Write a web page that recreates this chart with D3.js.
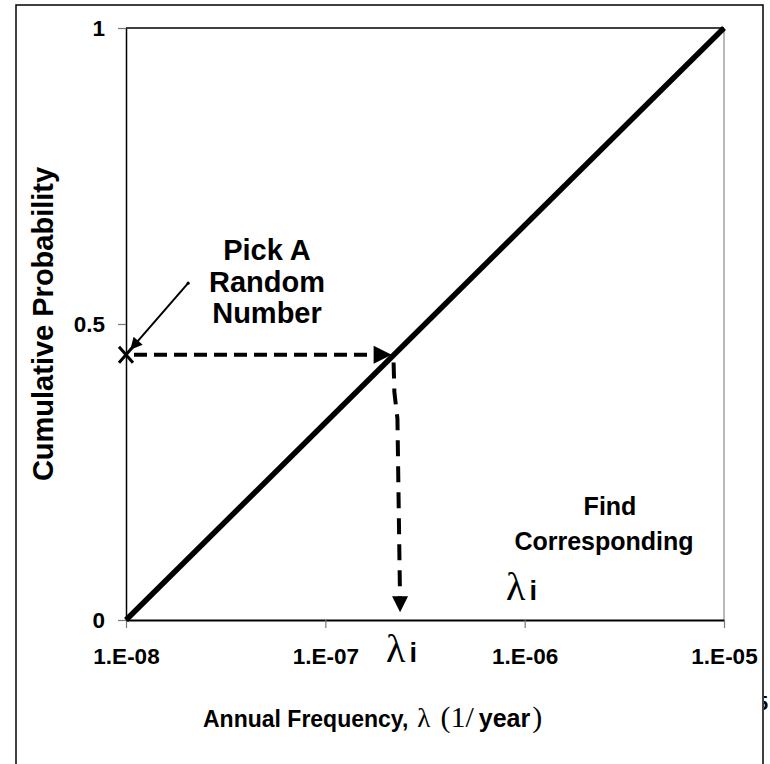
<!DOCTYPE html>
<html><head><meta charset="utf-8">
<script src="https://cdn.jsdelivr.net/npm/d3@7"></script>
<style>body{margin:0;background:#fff}svg{display:block}</style></head>
<body><svg id="c" width="770" height="764"></svg>
<script>
// ---- data ----
const xTicks = [1e-8, 1e-7, 1e-6, 1e-5];
const xTickLabels = ["1.E-08", "1.E-07", "1.E-06", "1.E-05"];
const yTicks = [0, 0.5, 1];
const yTickLabels = ["0", "0.5", "1"];
const cdfX = [1e-8, 1e-5];
const cdfY = [0, 1];
const pickedP = 0.448;
const hArrowX = [1e-8, 2.15e-7];
const vArrowX = [2.2e-7, 2.22e-7, 2.3e-7, 2.37e-7];
const vArrowY = [0.435, 0.385, 0.34, 0.013];
const noteArrowX = [2.05e-8, 1.06e-8];
const noteArrowY = [0.569, 0.458];

const svg = d3.select("#c");
const L = 126, R = 724, T = 28, B = 620;
const x = d3.scaleLog().domain([1e-8, 1e-5]).range([L, R]);
const y = d3.scaleLinear().domain([0, 1]).range([B, T]);
const bold = "Arial, 'Liberation Sans', Helvetica, sans-serif";
const serif = "'Times New Roman', 'Liberation Serif', serif";

// outer border
svg.append("rect").attr("x", 16).attr("y", 5).attr("width", 747).attr("height", 800)
  .attr("fill", "none").attr("stroke", "#000").attr("stroke-width", 1.5);

// clipped stray glyph at right edge
svg.append("clipPath").attr("id", "edge").append("rect").attr("x", 764).attr("y", 680).attr("width", 10).attr("height", 60);
svg.append("text").attr("x", 757).attr("y", 710).attr("clip-path", "url(#edge)")
  .attr("font-family", bold).attr("font-weight", "bold").attr("font-size", 20).text("5");

// plot frame
svg.append("line").attr("x1", L).attr("x2", R).attr("y1", T).attr("y2", T).attr("stroke", "#000").attr("stroke-width", 1.5);
svg.append("line").attr("x1", R).attr("x2", R).attr("y1", T).attr("y2", B).attr("stroke", "#888").attr("stroke-width", 1.2);

// axes
const xAxis = d3.axisBottom(x).tickValues(xTicks).tickFormat((d, i) => xTickLabels[i]).tickSize(8).tickSizeOuter(0);
const gx = svg.append("g").attr("transform", `translate(0,${B})`).call(xAxis);
gx.select(".domain").attr("stroke", "#000").attr("stroke-width", 2);
gx.selectAll(".tick line").attr("stroke", "#777").attr("stroke-width", 1.2);
gx.selectAll(".tick text").attr("font-family", bold).attr("font-weight", "bold").attr("font-size", 22.5)
  .attr("fill", "#000").attr("y", 44).attr("dy", 0);

const yAxis = d3.axisLeft(y).tickValues(yTicks).tickFormat((d, i) => yTickLabels[i]).tickSize(8).tickSizeOuter(0);
const gy = svg.append("g").attr("transform", `translate(${L},0)`).call(yAxis);
gy.select(".domain").attr("stroke", "#000").attr("stroke-width", 1.5);
gy.selectAll(".tick line").attr("stroke", "#777").attr("stroke-width", 1.2);
gy.selectAll(".tick text").attr("font-family", bold).attr("font-weight", "bold").attr("font-size", 22.5)
  .attr("fill", "#000").attr("x", -21);

// cdf line
const line = d3.line().x(d => x(d[0])).y(d => y(d[1]));
svg.append("path").datum(cdfX.map((v, i) => [v, cdfY[i]])).attr("d", line)
  .attr("fill", "none").attr("stroke", "#000").attr("stroke-width", 5.5);

// horizontal dashed arrow
const hx1 = x(hArrowX[0]), hx2 = x(hArrowX[1]), hy = y(pickedP);
svg.append("line").attr("x1", hx1 + 8).attr("x2", hx2 - 14).attr("y1", hy).attr("y2", hy)
  .attr("stroke", "#000").attr("stroke-width", 4).attr("stroke-dasharray", "13,7");
svg.append("path").attr("d", `M${hx2 - 18},${hy - 9}L${hx2},${hy}L${hx2 - 18},${hy + 9}Z`).attr("fill", "#000");

// vertical dashed arrow
const vpts = vArrowX.map((v, i) => [v, vArrowY[i]]);
const last = vpts[vpts.length - 1];
const lx = x(last[0]), ly = y(last[1]);
svg.append("path").datum(vpts).attr("d", d3.line().x(d => x(d[0])).y((d, i) => i === vpts.length - 1 ? y(d[1]) - 14 : y(d[1])))
  .attr("fill", "none").attr("stroke", "#000").attr("stroke-width", 4).attr("stroke-dasharray", "16,10");
svg.append("path").attr("d", `M${lx - 8},${ly - 16}L${lx},${ly}L${lx + 8},${ly - 16}Z`).attr("fill", "#000");

// x marker
const mx = x(1e-8), my = y(pickedP);
svg.append("path").attr("d", `M${mx - 7},${my - 8}L${mx + 7},${my + 8}M${mx - 7},${my + 8}L${mx + 7},${my - 8}`)
  .attr("stroke", "#000").attr("stroke-width", 3);

// note arrow
const ax1 = x(noteArrowX[0]), ay1 = y(noteArrowY[0]), ax2 = x(noteArrowX[1]), ay2 = y(noteArrowY[1]);
svg.append("defs").append("marker").attr("id", "ah").attr("viewBox", "0 0 10 10").attr("refX", 9).attr("refY", 5)
  .attr("markerWidth", 17).attr("markerHeight", 12).attr("markerUnits", "userSpaceOnUse").attr("orient", "auto")
  .append("path").attr("d", "M0,0L10,5L0,10Z").attr("fill", "#000");
svg.append("line").attr("x1", ax1).attr("y1", ay1).attr("x2", ax2).attr("y2", ay2)
  .attr("stroke", "#000").attr("stroke-width", 2).attr("marker-end", "url(#ah)");
svg.append("circle").attr("cx", ax1).attr("cy", ay1).attr("r", 1.6).attr("fill", "#000");

// annotation text
function btext(tx, ty, s, size) {
  return svg.append("text").attr("x", tx).attr("y", ty).attr("text-anchor", "middle")
    .attr("font-family", bold).attr("font-weight", "bold").attr("font-size", size).text(s);
}
btext(267, 260, "Pick A", 29);
btext(267, 292, "Random", 29);
btext(267, 323, "Number", 29);
btext(610, 515, "Find", 25);
btext(604, 550, "Corresponding", 25);

function lam(tx, ty) {
  const t = svg.append("text").attr("x", tx).attr("y", ty);
  t.append("tspan").attr("font-family", serif).attr("font-size", 40).text("λ");
  t.append("tspan").attr("font-family", bold).attr("font-weight", "bold").attr("font-size", 27).attr("dx", 4).text("i");
}
lam(506, 600);
lam(386, 662);

// axis title (single text element)
const xt = svg.append("text").attr("x", 203).attr("y", 727);
xt.append("tspan").attr("font-family", bold).attr("font-weight", "bold").attr("font-size", 23).text("Annual Frequency,");
xt.append("tspan").attr("font-family", serif).attr("font-size", 27).attr("dx", 9).text("λ");
xt.append("tspan").attr("font-family", serif).attr("font-size", 30).attr("dx", 10).text("(1/");
xt.append("tspan").attr("font-family", bold).attr("font-weight", "bold").attr("font-size", 25).attr("dx", 5).text("year");
xt.append("tspan").attr("font-family", serif).attr("font-size", 30).attr("dx", 2).text(")");

svg.append("text").attr("transform", `translate(53,${(T + B) / 2}) rotate(-90)`).attr("text-anchor", "middle")
  .attr("font-family", bold).attr("font-weight", "bold").attr("font-size", 29).text("Cumulative Probability");
</script></body></html>
